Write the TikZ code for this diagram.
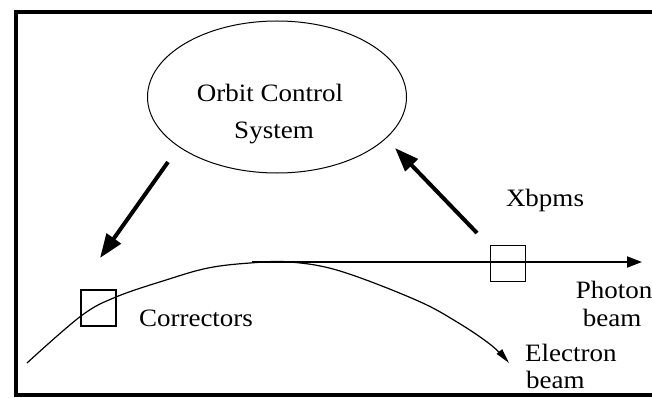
\documentclass[tikz,border=0pt]{standalone}
\usepackage{fontspec}
\setmainfont[FakeStretch=1.08]{Liberation Serif}
\usetikzlibrary{arrows.meta,shapes.geometric}
\begin{document}
\begin{tikzpicture}[x=1pt,y=-1pt,
  lbl/.style={inner sep=0pt,font=\fontsize{25}{28}\selectfont},
  thickarrow/.style={line width=4pt,-{Triangle[length=24pt,width=17pt]}},
  boxshape/.style={draw,line width=1.3pt,minimum width=35pt,minimum height=36pt,inner sep=0pt},
  beam/.style={line width=1.2pt}]
\useasboundingbox (0,0) rectangle (652,398);
\fill[white] (0,0) rectangle (652,398);
% frame
\draw[line width=4pt] (652,12) -- (16,12) -- (16,395) -- (652,395);
% orbit control system
\node[draw,ellipse,line width=1pt,minimum width=259pt,minimum height=152pt,inner sep=0pt] (ocs) at (277,97) {};
\node[lbl] (t1) at (270,93) {Orbit Control};
\node[lbl] (t2) at (274,133) {System};
% boxes
\node[boxshape] (corr) at (98.5,308) {};
\node[boxshape] (xbpm) at (508,263.5) {};
% labels
\node[lbl] (corrl) at (196,318) {Correctors};
\node[lbl] (xbpml) at (545,200) {Xbpms};
\node[lbl] (ph1) at (614,290) {Photon};
\node[lbl] (ph2) at (612,318) {beam};
\node[lbl,anchor=west] (el1) at (525,353) {Electron};
\node[lbl,anchor=west] (el2) at (526,380) {beam};
% beams
\coordinate (phs) at (252,262);
\coordinate (phe) at (642,262);
\draw[line width=1.8pt,-{Triangle[length=15pt,width=11pt]}] (phs) -- (phe);
\draw[beam,-{Triangle[length=15pt,width=7pt]}] plot[smooth,tension=0.6] coordinates {(27,363) (81,316) (116,297) (166,280) (208,268) (250,263) (290,262) (340,271) (416,300) (457,322) (491,345) (509,363)};
% thick arrows
\coordinate (la) at (168,162);
\coordinate (lb) at (100,258);
\coordinate (ra) at (477,233);
\coordinate (rb) at (395,148);
\draw[thickarrow] (la) -- (lb);
\draw[thickarrow] (ra) -- (rb);
\end{tikzpicture}
\end{document}
